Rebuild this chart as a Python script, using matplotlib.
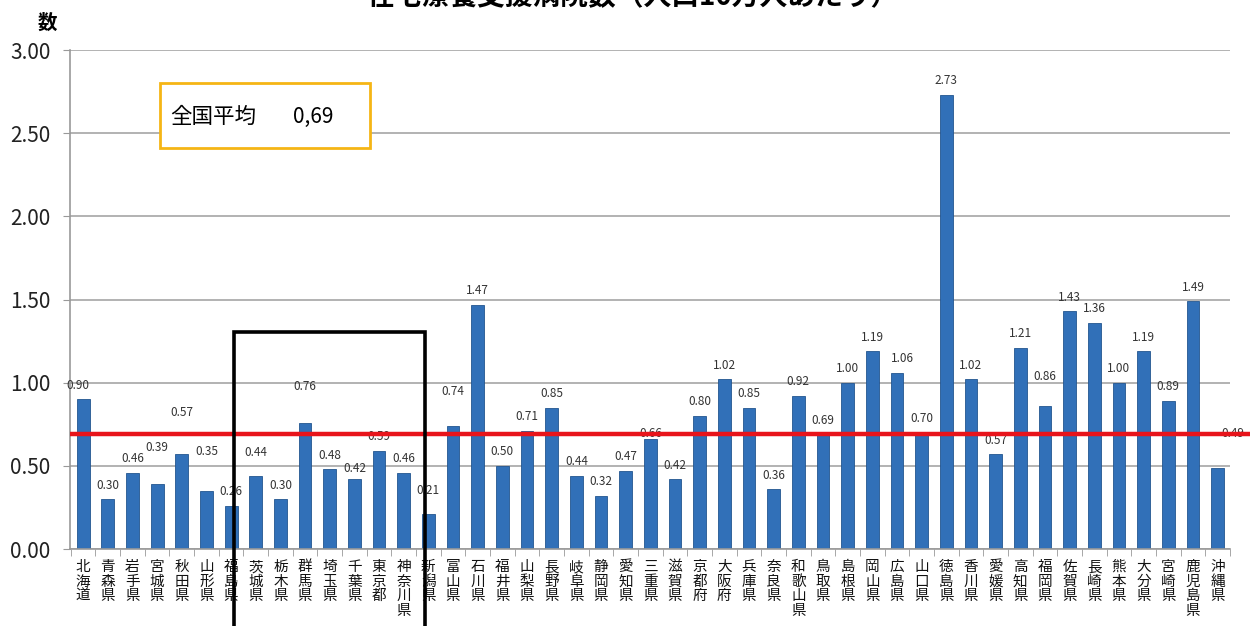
# -*- coding: utf-8 -*-
# 在宅療養支援病院数（人口10万人あたり） - bar chart by prefecture

import matplotlib
matplotlib.use("Agg")
import matplotlib.pyplot as plt
from matplotlib.patches import Rectangle

plt.rcParams['font.family'] = ['Noto Sans CJK JP', 'DejaVu Sans']

# data
prefectures = ["北海道", "青森県", "岩手県", "宮城県", "秋田県", "山形県", "福島県",
               "茨城県", "栃木県", "群馬県", "埼玉県", "千葉県", "東京都", "神奈川県",
               "新潟県", "富山県", "石川県", "福井県", "山梨県", "長野県", "岐阜県",
               "静岡県", "愛知県", "三重県", "滋賀県", "京都府", "大阪府", "兵庫県",
               "奈良県", "和歌山県", "鳥取県", "島根県", "岡山県", "広島県", "山口県",
               "徳島県", "香川県", "愛媛県", "高知県", "福岡県", "佐賀県", "長崎県",
               "熊本県", "大分県", "宮崎県", "鹿児島県", "沖縄県"]
values = [0.90, 0.30, 0.46, 0.39, 0.57, 0.35, 0.26,
          0.44, 0.30, 0.76, 0.48, 0.42, 0.59, 0.46,
          0.21, 0.74, 1.47, 0.50, 0.71, 0.85, 0.44,
          0.32, 0.47, 0.66, 0.42, 0.80, 1.02, 0.85,
          0.36, 0.92, 0.69, 1.00, 1.19, 1.06, 0.70,
          2.73, 1.02, 0.57, 1.21, 0.86, 1.43, 1.36,
          1.00, 1.19, 0.89, 1.49, 0.49]
national_avg = 0.69
avg_text = "0,69"
title = "在宅療養支援病院数（人口10万人あたり）"
y_ticks = [0.0, 0.5, 1.0, 1.5, 2.0, 2.5, 3.0]

# label nudges (pixels) where the original labels sit off the bar top
label_nudge = {"北海道": (-5, 0), "宮城県": (0, 23), "秋田県": (0, 28), "山形県": (0, 25),
               "茨城県": (0, 9), "群馬県": (0, 22), "千葉県": (0, -3), "新潟県": (0, 10),
               "富山県": (0, 20), "三重県": (0, -8), "広島県": (5, 0), "福岡県": (0, 15),
               "沖縄県": (15, 20)}

### figure
fig = plt.figure(figsize=(12.53, 6.26), dpi=100)
ax = fig.add_axes([0.0559, 0.1230, 0.9257, 0.7970])

x = list(range(len(values)))
ax.bar(x, values, width=0.52, color="#3170B8", edgecolor="#22558F", linewidth=0.6, zorder=2)

# value labels
for i, (p, v) in enumerate(zip(prefectures, values)):
    dx, dy = label_nudge.get(p, (0, 0))
    ax.annotate(f"{v:.2f}", (i, v), xytext=(dx, 14 + dy), textcoords="offset pixels",
                ha="center", va="center", fontsize=8.5, color="#333333", zorder=3)

# national average line
ax.plot([-0.53, 47.3], [national_avg, national_avg], color="#E8141B", lw=3.2,
        zorder=4, clip_on=False, solid_capstyle="butt")

# axes styling
ax.set_xlim(-0.53, 46.5)
ax.set_ylim(0, 3)
ax.set_yticks(y_ticks)
ax.set_yticklabels([f"{t:.2f}" for t in y_ticks], fontsize=15, color="#222222")
ax.yaxis.grid(True, color="#A6A6A6", lw=1.2, zorder=0)
ax.set_axisbelow(True)
for s in ["top", "right"]:
    ax.spines[s].set_visible(False)
ax.spines["left"].set_color("#999999")
ax.spines["bottom"].set_color("#999999")
ax.spines["left"].set_linewidth(1.2)
ax.spines["bottom"].set_linewidth(1.2)
ax.tick_params(axis="y", length=5, color="#999999", pad=9)

ax.set_xticks(x)
ax.set_xticklabels(["\n".join(p) for p in prefectures], fontsize=10.5,
                   linespacing=1.05, va="top", color="#111111")
ax.tick_params(axis="x", length=0, pad=8)
ax.set_xticks([i + 0.5 for i in range(-1, len(values))], minor=True)
ax.tick_params(axis="x", which="minor", length=5, color="#999999")

# title (cut at the top edge in the original) and y unit
fig.text(0.505, 1.004, title, ha="center", va="center", fontsize=20, fontweight="bold")
fig.text(0.0375, 0.963, "数", ha="center", va="center", fontsize=14, fontweight="bold")

# average box
box = Rectangle((160 / 1253, 1 - 148 / 626), 210 / 1253, 65 / 626, transform=fig.transFigure,
                fill=True, facecolor="white", edgecolor="#F5B515", lw=2, zorder=5)
fig.patches.append(box)
fig.text(170 / 1253, 1 - 117 / 626, "全国平均", ha="left", va="center", fontsize=15.5, zorder=6)
fig.text(293 / 1253, 1 - 117 / 626, avg_text, ha="left", va="center", fontsize=15, zorder=6)

# black highlight frame around Kanto
frame = Rectangle((6.1, -0.8), 13.86 - 6.1, 1.305 + 0.8, fill=False, edgecolor="black",
                  lw=2.6, zorder=6, clip_on=False)
ax.add_patch(frame)

fig.savefig("out.png", dpi=100)
